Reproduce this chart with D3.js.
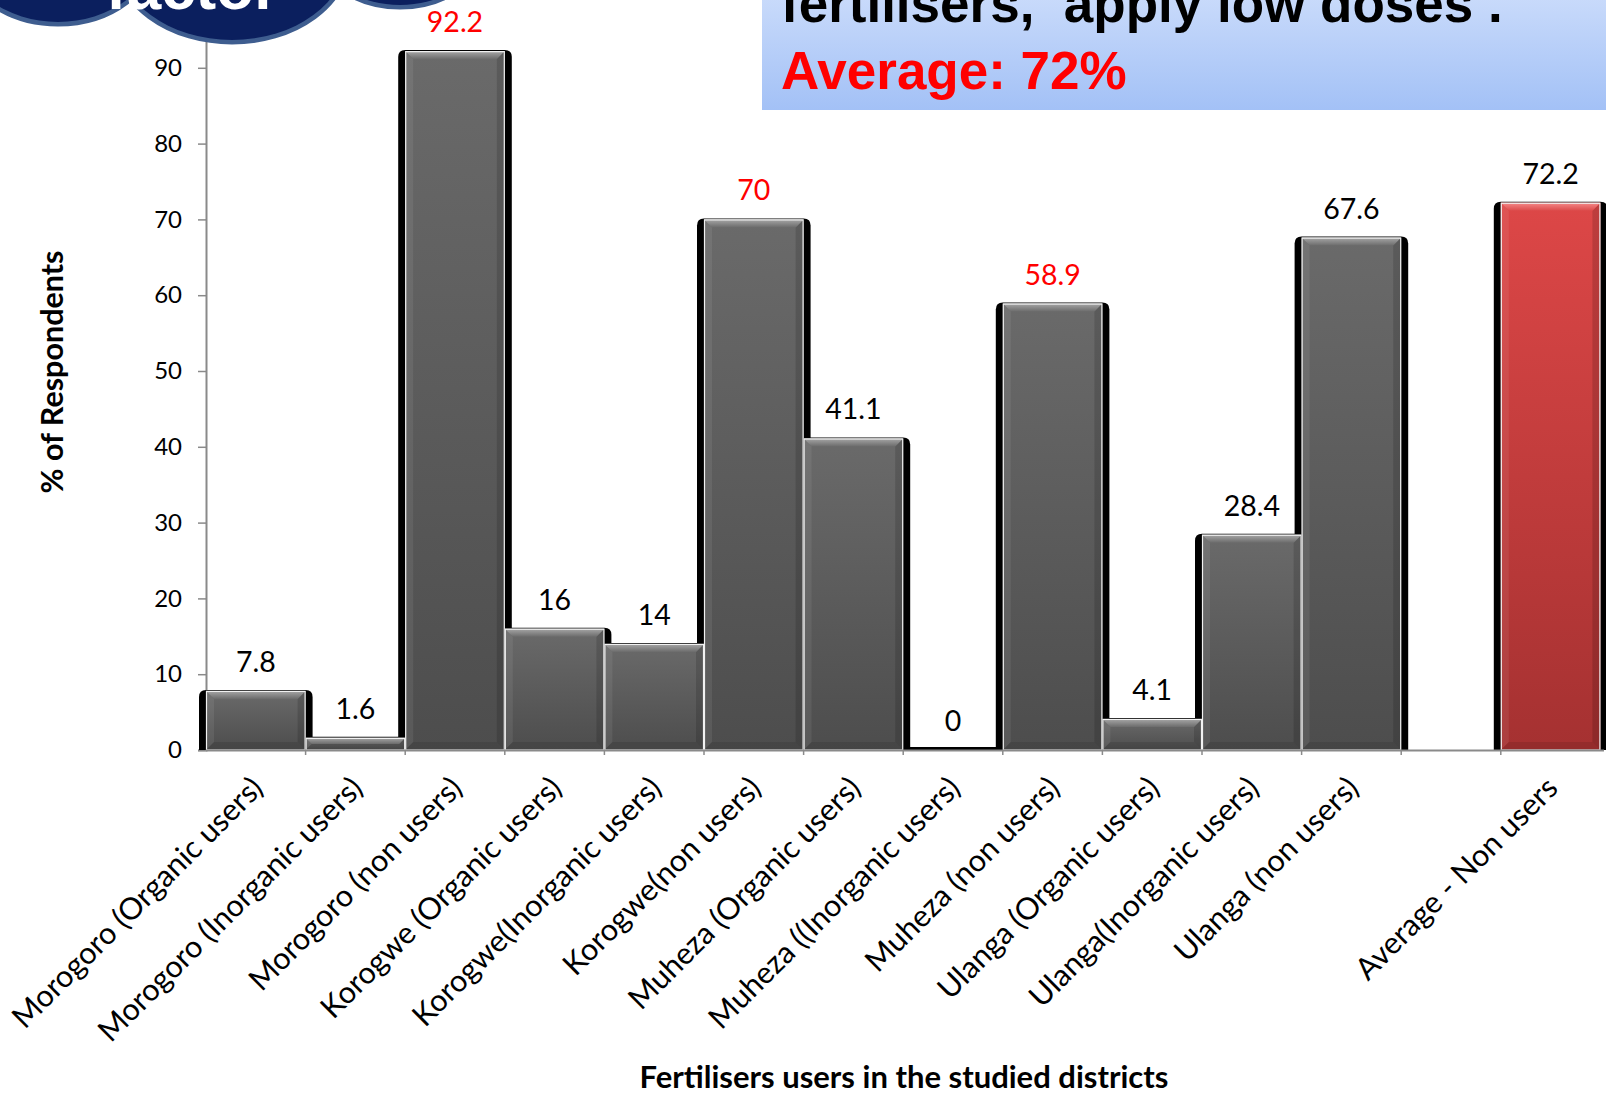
<!DOCTYPE html>
<html>
<head>
<meta charset="utf-8">
<script src="https://cdn.jsdelivr.net/npm/d3@7"></script>
<style>
  html, body { margin: 0; padding: 0; background: #ffffff; }
  svg { display: block; }
</style>
</head>
<body>
<svg id="chart" width="1606" height="1096"></svg>
<script>
// Share of respondents per district and fertiliser-use group.
// The blank entry keeps an empty slot before the overall average.
const categories = [
  "Morogoro (Organic users)",
  "Morogoro (Inorganic users)",
  "Morogoro (non users)",
  "Korogwe (Organic users)",
  "Korogwe(Inorganic users)",
  "Korogwe(non users)",
  "Muheza (Organic users)",
  "Muheza ((Inorganic users)",
  "Muheza (non users)",
  "Ulanga (Organic users)",
  "Ulanga(Inorganic users)",
  "Ulanga (non users)",
  "",
  "Average - Non users"
];
const values = [7.8, 1.6, 92.2, 16, 14, 70, 41.1, 0, 58.9, 4.1, 28.4, 67.6, null, 72.2];
const yTicks = [0, 10, 20, 30, 40, 50, 60, 70, 80, 90];
const redLabelGroups = ["Morogoro (non users)", "Korogwe(non users)", "Muheza (non users)"];
const yTitle = "% of Respondents";
const xTitle = "Fertilisers users in the studied districts";
const bannerLine1 = "fertilisers,  apply low doses .";
const bannerLine2 = "Average: 72%";
const badgeText = "factor";

const data = categories.map((c, i) => ({ name: c, value: values[i] }));

const svg = d3.select("#chart");
const defs = svg.append("defs");

function vGrad(id, stops) {
  const g = defs.append("linearGradient").attr("id", id)
    .attr("x1", 0).attr("y1", 0).attr("x2", 0).attr("y2", 1);
  stops.forEach(([o, c]) => g.append("stop").attr("offset", o).attr("stop-color", c));
}
vGrad("grayBody", [[0, "#6a6a6a"], [1, "#4d4d4d"]]);
vGrad("grayTop", [[0, "#a8a8a8"], [1, "#6c6c6c"]]);
vGrad("redBody", [[0, "#dd4747"], [1, "#a53131"]]);
vGrad("redTop", [[0, "#f58a8a"], [1, "#dc4a4a"]]);
vGrad("bannerFill", [[0, "#cbdcfb"], [1, "#a3c1f6"]]);

const x = d3.scaleBand().domain(categories).range([206, 1600.4]).padding(0);
const y = d3.scaleLinear().domain([0, 100]).range([750, -8]);

const isAverage = d => d.name.startsWith("Average");
const bars = data.filter(d => d.name !== "" && d.value !== null);

// ---- axes ----
const yAxis = d3.axisLeft(y).tickValues(yTicks).tickSize(8).tickPadding(16).tickFormat(d3.format("d"));
const gy = svg.append("g").attr("transform", "translate(206,0)").call(yAxis);
gy.select(".domain").attr("stroke", "#8a8a8a").attr("stroke-width", 2);
gy.selectAll(".tick line").attr("stroke", "#8a8a8a").attr("stroke-width", 1.5);
gy.selectAll(".tick text")
  .attr("font-family", "Lato, 'Open Sans', sans-serif")
  .attr("font-size", 24).attr("fill", "#000");

// ---- bar shadows (drawn first so neighbours cover them) ----
const sh = 7, rr = 7;
svg.append("g").selectAll("path").data(bars).join("path")
  .attr("fill", "#000")
  .attr("d", d => {
    const x0 = x(d.name) - sh, x1 = x(d.name) + x.bandwidth() + sh;
    const top = Math.min(y(d.value) - 1, y(0) - 3), base = y(0);
    const r = Math.min(rr, (base - top));
    return `M${x0},${base}V${top + r}Q${x0},${top} ${x0 + r},${top}H${x1 - r}Q${x1},${top} ${x1},${top + r}V${base}Z`;
  });

// ---- bars with bevel ----
const gb = svg.append("g").selectAll("g").data(bars).join("g");
gb.each(function (d) {
  const g = d3.select(this);
  const bx = x(d.name), bw = x.bandwidth();
  const by = y(d.value), bh = y(0) - y(d.value);
  if (bh <= 0) return;
  const red = isAverage(d);
  const b = Math.min(8, bh / 2);
  g.append("rect").attr("x", bx).attr("y", by).attr("width", bw).attr("height", bh)
    .attr("fill", red ? "url(#redBody)" : "url(#grayBody)");
  // left & right edges
  g.append("path").attr("d", `M${bx},${by}L${bx + b},${by + b}V${by + bh - b}L${bx},${by + bh}Z`)
    .attr("fill", "#ffffff").attr("opacity", 0.07);
  g.append("path").attr("d", `M${bx + bw},${by}L${bx + bw - b},${by + b}V${by + bh - b}L${bx + bw},${by + bh}Z`)
    .attr("fill", "#000000").attr("opacity", 0.14);
  g.append("path").attr("d", `M${bx},${by + bh}L${bx + b},${by + bh - b}H${bx + bw - b}L${bx + bw},${by + bh}Z`)
    .attr("fill", "#000000").attr("opacity", 0.1);
  // top bevel
  g.append("path").attr("d", `M${bx},${by}H${bx + bw}L${bx + bw - b},${by + b}H${bx + b}Z`)
    .attr("fill", red ? "url(#redTop)" : "url(#grayTop)");
  g.append("rect").attr("x", bx + 0.5).attr("y", by + 0.5).attr("width", bw - 1).attr("height", bh - 0.5)
    .attr("fill", "none").attr("stroke", "#f2f2f2").attr("stroke-width", 1.2);
});

// ---- x axis line and between-category ticks ----
svg.append("line").attr("x1", 206).attr("x2", 1604).attr("y1", 750.5).attr("y2", 750.5)
  .attr("stroke", "#8a8a8a").attr("stroke-width", 2);
svg.append("g").selectAll("line").data(categories.slice(1)).join("line")
  .attr("x1", d => x(d) ?? 0).attr("x2", d => x(d) ?? 0)
  .attr("y1", 750).attr("y2", 755).attr("stroke", "#8a8a8a").attr("stroke-width", 1.5);

// ---- value labels ----
svg.append("g").selectAll("text").data(bars).join("text")
  .attr("x", d => x(d.name) + x.bandwidth() / 2)
  .attr("y", d => y(d.value) - 19)
  .attr("text-anchor", "middle")
  .attr("font-family", "Lato, 'Open Sans', sans-serif")
  .attr("font-size", 28.5)
  .attr("fill", d => redLabelGroups.includes(d.name) ? "#ff0000" : "#000")
  .text(d => String(d.value));

// ---- category labels ----
svg.append("g").selectAll("text").data(data.filter(d => d.name !== "")).join("text")
  .attr("transform", d => `translate(${x(d.name) + x.bandwidth() / 2 + 9},790) rotate(-45)`)
  .attr("text-anchor", "end")
  .attr("font-family", "Lato, 'Open Sans', sans-serif")
  .attr("font-size", 30.5)
  .attr("fill", "#000")
  .text(d => d.name);

// ---- axis titles ----
svg.append("text")
  .attr("transform", "translate(63,372) rotate(-90)")
  .attr("text-anchor", "middle")
  .attr("font-family", "Lato, 'Open Sans', sans-serif")
  .attr("font-weight", "bold").attr("font-size", 30.5).attr("fill", "#000")
  .text(yTitle);
svg.append("text")
  .attr("x", 904).attr("y", 1088)
  .attr("text-anchor", "middle")
  .attr("font-family", "Lato, 'Open Sans', sans-serif")
  .attr("font-weight", "bold").attr("font-size", 31).attr("fill", "#000")
  .text(xTitle);

// ---- cloud badge, top left ----
const lobes = [
  { cx: 58, cy: -50, rx: 95, ry: 72 },
  { cx: 232, cy: -45, rx: 115, ry: 85 },
  { cx: 400, cy: -40, rx: 72, ry: 45 }
];
const badge = svg.append("g");
badge.selectAll("ellipse.edge").data(lobes).join("ellipse").attr("class", "edge")
  .attr("cx", d => d.cx).attr("cy", d => d.cy).attr("rx", d => d.rx).attr("ry", d => d.ry)
  .attr("fill", "#3e5d8f").attr("stroke", "#3e5d8f").attr("stroke-width", 9);
badge.selectAll("ellipse.core").data(lobes).join("ellipse").attr("class", "core")
  .attr("cx", d => d.cx).attr("cy", d => d.cy).attr("rx", d => d.rx).attr("ry", d => d.ry)
  .attr("fill", "#0b1f5e");
badge.append("text").attr("x", 106).attr("y", 9)
  .attr("font-family", "'Liberation Sans', Arial, sans-serif")
  .attr("font-weight", "bold").attr("font-size", 62).attr("fill", "#ffffff")
  .text(badgeText);

// ---- banner, top right ----
const banner = svg.append("g");
banner.append("rect").attr("x", 762).attr("y", -10).attr("width", 850).attr("height", 120)
  .attr("fill", "url(#bannerFill)");
banner.append("text").attr("x", 781).attr("y", 22)
  .attr("font-family", "'Liberation Sans', Arial, sans-serif")
  .attr("font-weight", "bold").attr("font-size", 53).attr("fill", "#000")
  .style("white-space", "pre")
  .text(bannerLine1);
banner.append("text").attr("x", 781).attr("y", 89)
  .attr("font-family", "'Liberation Sans', Arial, sans-serif")
  .attr("font-weight", "bold").attr("font-size", 53).attr("fill", "#ff0000")
  .text(bannerLine2);
</script>
</body>
</html>
